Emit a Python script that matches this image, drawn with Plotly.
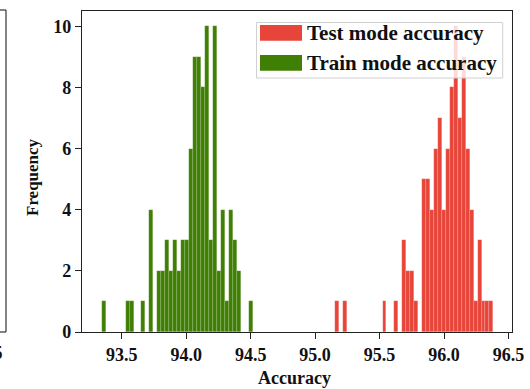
import plotly.graph_objects as go

# ---- data ----
train_bin_start = 93.345
train_bin_width = 0.03083
train_counts = [1, 0, 0, 0, 0, 0, 1, 1, 0, 0, 1, 0, 4, 0, 2, 2, 3, 2, 3, 2,
                3, 3, 6, 9, 9, 8, 10, 3, 10, 2, 4, 1, 4, 3, 2, 0, 0, 1]

test_bin_start = 95.154
test_bin_width = 0.03072
test_counts = [1, 0, 1, 0, 0, 0, 0, 0, 0, 0, 0, 0, 1, 0, 0, 1, 0, 3, 2, 2,
               1, 0, 5, 5, 4, 6, 7, 4, 6, 8, 10, 7, 9, 6, 4, 1, 3, 1, 1, 1]

series_names = ["Test mode accuracy", "Train mode accuracy"]
x_title = "Accuracy"
y_title = "Frequency"
x_ticks = [93.5, 94.0, 94.5, 95.0, 95.5, 96.0, 96.5]
y_ticks = [0, 2, 4, 6, 8, 10]

RED = "#e8453a"
GREEN = "#3f7f04"

train_x = [train_bin_start + train_bin_width * (i + 0.5) for i in range(len(train_counts))]
test_x = [test_bin_start + test_bin_width * (i + 0.5) for i in range(len(test_counts))]

FONT = dict(family="Liberation Serif", weight="bold", color="#111")

fig = go.Figure()
fig.add_trace(go.Bar(x=test_x, y=test_counts, width=test_bin_width, name=series_names[0],
                     marker=dict(color=RED, line=dict(color="rgba(255,255,255,0.3)", width=0.5)),
                     showlegend=False))
fig.add_trace(go.Bar(x=train_x, y=train_counts, width=train_bin_width, name=series_names[1],
                     marker=dict(color=GREEN, line=dict(color="rgba(255,255,255,0.3)", width=0.5)),
                     showlegend=False))

L, R, T, B = 82, 18, 11, 57
W, H = 530, 389
PW, PH = W - L - R, H - T - B


def px(xp):
    return (xp - L) / PW


def py(yp):
    return (H - B - yp) / PH


shapes = []
# legend box (semi-transparent, drawn above bars)
shapes.append(dict(type="rect", xref="paper", yref="paper", layer="above",
                   x0=px(256.5), x1=px(502.7), y0=py(78), y1=py(22.5),
                   fillcolor="rgba(255,255,255,0.8)", line=dict(color="#d0d0d0", width=1)))
shapes.append(dict(type="rect", xref="paper", yref="paper", layer="above",
                   x0=px(260), x1=px(302), y0=py(40.7), y1=py(25),
                   fillcolor=RED, line=dict(width=0)))
shapes.append(dict(type="rect", xref="paper", yref="paper", layer="above",
                   x0=px(260), x1=px(302), y0=py(70.7), y1=py(55),
                   fillcolor=GREEN, line=dict(width=0)))
# remnant of neighbouring panel frame at far left
shapes.append(dict(type="line", xref="paper", yref="paper", x0=px(6), x1=px(6), y0=py(332), y1=py(10),
                   line=dict(color="#333", width=1.2)))
shapes.append(dict(type="line", xref="paper", yref="paper", x0=px(-2), x1=px(6), y0=py(10), y1=py(10),
                   line=dict(color="#333", width=1.2)))
shapes.append(dict(type="line", xref="paper", yref="paper", x0=px(-2), x1=px(6), y0=py(332), y1=py(332),
                   line=dict(color="#333", width=1.2)))

annotations = [
    dict(text=series_names[0], xref="paper", yref="paper", x=px(305), y=py(33.5),
         xanchor="left", yanchor="middle", showarrow=False, font=dict(size=21, **FONT)),
    dict(text=series_names[1], xref="paper", yref="paper", x=px(305), y=py(63.5),
         xanchor="left", yanchor="middle", showarrow=False, font=dict(size=21, **FONT)),
    # axis titles
    dict(text=x_title, xref="paper", yref="paper", x=px(294), y=py(378),
         xanchor="center", yanchor="middle", showarrow=False, font=dict(size=18, **FONT)),
    dict(text=y_title, xref="paper", yref="paper", x=px(32), y=py(177), textangle=-90,
         xanchor="center", yanchor="middle", showarrow=False, font=dict(size=17, **FONT)),
    # tail of the neighbouring panel's last tick label (cut by the image edge, as in the reference)
    dict(text="96.5", xref="paper", yref="paper", x=px(5), y=py(353),
         xanchor="right", yanchor="middle", showarrow=False, font=dict(size=18, **FONT)),
]

fig.update_layout(
    width=W, height=H,
    margin=dict(l=L, r=R, t=T, b=B, autoexpand=False),
    paper_bgcolor="white", plot_bgcolor="white",
    barmode="overlay", bargap=0,
    shapes=shapes, annotations=annotations,
    font=dict(size=18, **FONT),
)
fig.update_xaxes(range=[93.192, 96.527], tickvals=x_ticks, tickformat=".1f",
                 ticks="outside", ticklen=6, tickwidth=1.2, tickcolor="#222",
                 showline=True, linecolor="#222", linewidth=1.2, mirror=True,
                 showgrid=False, zeroline=False, automargin=False,
                 tickfont=dict(size=18, **FONT))
fig.update_yaxes(range=[0, 10.5], tickvals=y_ticks,
                 ticks="outside", ticklen=6, tickwidth=1.2, tickcolor="#222",
                 showline=True, linecolor="#222", linewidth=1.2, mirror=True,
                 showgrid=False, zeroline=False, automargin=False,
                 tickfont=dict(size=18, **FONT))

fig.write_html("out.html", config=dict(displayModeBar=False))
